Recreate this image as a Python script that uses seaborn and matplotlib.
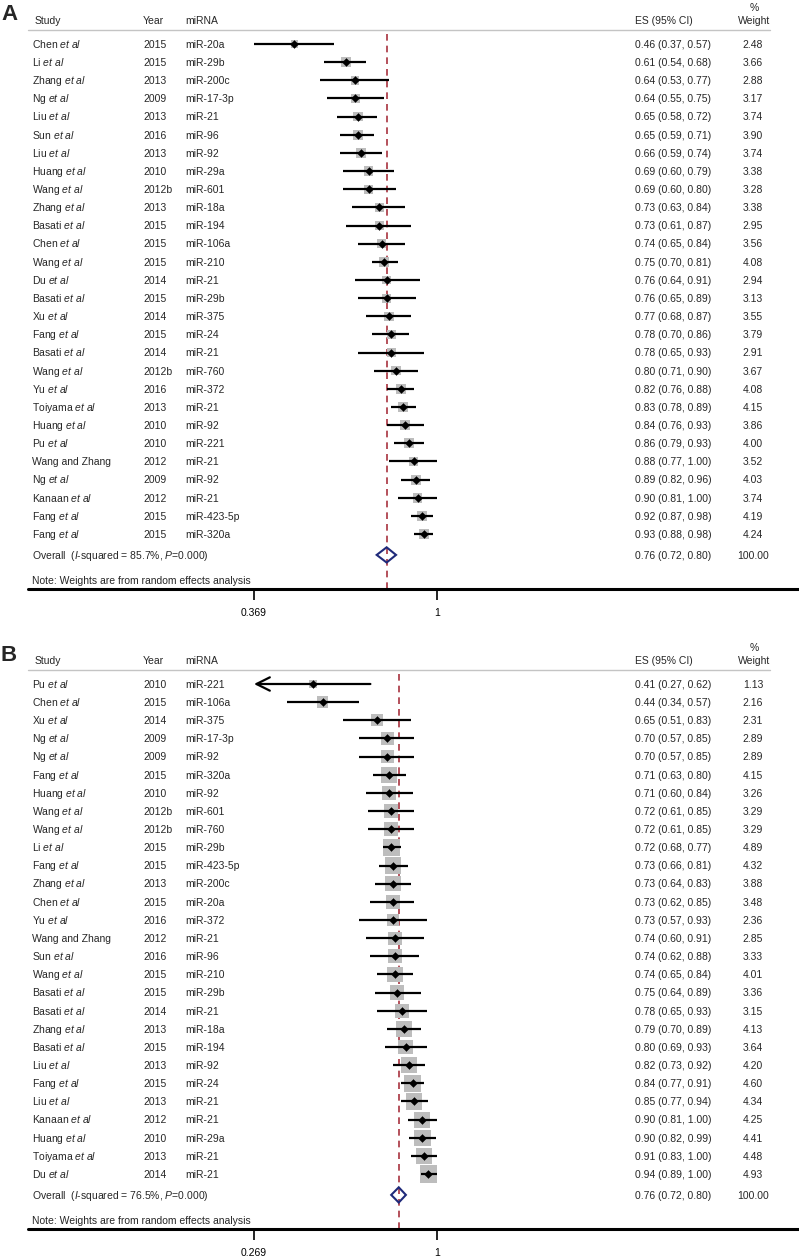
import matplotlib.pyplot as plt
import matplotlib.transforms as mtransforms
from matplotlib.lines import Line2D
from matplotlib.patches import Polygon
from matplotlib.ticker import NullLocator
import seaborn as sns
import pandas as pd

sns.set_theme(style='white')
plt.rcParams['font.family'] = ['Liberation Sans', 'DejaVu Sans']
plt.rcParams['mathtext.fontset'] = 'custom'
plt.rcParams['mathtext.rm'] = 'Liberation Sans'
plt.rcParams['mathtext.it'] = 'Liberation Sans:italic'

# PANEL A DATA
a_author = ['Chen', 'Li', 'Zhang', 'Ng', 'Liu', 'Sun', 'Liu', 'Huang', 'Wang', 'Zhang',
            'Basati', 'Chen', 'Wang', 'Du', 'Basati', 'Xu', 'Fang', 'Basati', 'Wang', 'Yu',
            'Toiyama', 'Huang', 'Pu', 'Wang and Zhang', 'Ng', 'Kanaan', 'Fang', 'Fang']
a_year = ['2015', '2015', '2013', '2009', '2013', '2016', '2013', '2010', '2012b', '2013',
          '2015', '2015', '2015', '2014', '2015', '2014', '2015', '2014', '2012b', '2016',
          '2013', '2010', '2010', '2012', '2009', '2012', '2015', '2015']
a_mirna = ['miR-20a', 'miR-29b', 'miR-200c', 'miR-17-3p', 'miR-21', 'miR-96', 'miR-92', 'miR-29a',
           'miR-601', 'miR-18a', 'miR-194', 'miR-106a', 'miR-210', 'miR-21', 'miR-29b', 'miR-375',
           'miR-24', 'miR-21', 'miR-760', 'miR-372', 'miR-21', 'miR-92', 'miR-221', 'miR-21',
           'miR-92', 'miR-21', 'miR-423-5p', 'miR-320a']
a_es = [0.46, 0.61, 0.64, 0.64, 0.65, 0.65, 0.66, 0.69, 0.69, 0.73, 0.73, 0.74, 0.75, 0.76,
        0.76, 0.77, 0.78, 0.78, 0.80, 0.82, 0.83, 0.84, 0.86, 0.88, 0.89, 0.90, 0.92, 0.93]
a_lo = [0.37, 0.54, 0.53, 0.55, 0.58, 0.59, 0.59, 0.60, 0.60, 0.63, 0.61, 0.65, 0.70, 0.64,
        0.65, 0.68, 0.70, 0.65, 0.71, 0.76, 0.78, 0.76, 0.79, 0.77, 0.82, 0.81, 0.87, 0.88]
a_hi = [0.57, 0.68, 0.77, 0.75, 0.72, 0.71, 0.74, 0.79, 0.80, 0.84, 0.87, 0.84, 0.81, 0.91,
        0.89, 0.87, 0.86, 0.93, 0.90, 0.88, 0.89, 0.93, 0.93, 1.00, 0.96, 1.00, 0.98, 0.98]
a_weight = [2.48, 3.66, 2.88, 3.17, 3.74, 3.90, 3.74, 3.38, 3.28, 3.38, 2.95, 3.56, 4.08, 2.94,
            3.13, 3.55, 3.79, 2.91, 3.67, 4.08, 4.15, 3.86, 4.00, 3.52, 4.03, 3.74, 4.19, 4.24]
a_overall = [0.76, 0.72, 0.80]
a_isq = '85.7%'
a_tick = 0.369

# PANEL B DATA
b_author = ['Pu', 'Chen', 'Xu', 'Ng', 'Ng', 'Fang', 'Huang', 'Wang', 'Wang', 'Li',
            'Fang', 'Zhang', 'Chen', 'Yu', 'Wang and Zhang', 'Sun', 'Wang', 'Basati', 'Basati', 'Zhang',
            'Basati', 'Liu', 'Fang', 'Liu', 'Kanaan', 'Huang', 'Toiyama', 'Du']
b_year = ['2010', '2015', '2014', '2009', '2009', '2015', '2010', '2012b', '2012b', '2015',
          '2015', '2013', '2015', '2016', '2012', '2016', '2015', '2015', '2014', '2013',
          '2015', '2013', '2015', '2013', '2012', '2010', '2013', '2014']
b_mirna = ['miR-221', 'miR-106a', 'miR-375', 'miR-17-3p', 'miR-92', 'miR-320a', 'miR-92', 'miR-601',
           'miR-760', 'miR-29b', 'miR-423-5p', 'miR-200c', 'miR-20a', 'miR-372', 'miR-21', 'miR-96',
           'miR-210', 'miR-29b', 'miR-21', 'miR-18a', 'miR-194', 'miR-92', 'miR-24', 'miR-21',
           'miR-21', 'miR-29a', 'miR-21', 'miR-21']
b_es = [0.41, 0.44, 0.65, 0.70, 0.70, 0.71, 0.71, 0.72, 0.72, 0.72, 0.73, 0.73, 0.73, 0.73,
        0.74, 0.74, 0.74, 0.75, 0.78, 0.79, 0.80, 0.82, 0.84, 0.85, 0.90, 0.90, 0.91, 0.94]
b_lo = [0.265, 0.34, 0.51, 0.57, 0.57, 0.63, 0.60, 0.61, 0.61, 0.68, 0.66, 0.64, 0.62, 0.57,
        0.60, 0.62, 0.65, 0.64, 0.65, 0.70, 0.69, 0.73, 0.77, 0.77, 0.81, 0.82, 0.83, 0.89]
b_hi = [0.62, 0.57, 0.83, 0.85, 0.85, 0.80, 0.84, 0.85, 0.85, 0.77, 0.81, 0.83, 0.85, 0.93,
        0.91, 0.88, 0.84, 0.89, 0.93, 0.89, 0.93, 0.92, 0.91, 0.94, 1.00, 0.99, 1.00, 1.00]
b_weight = [1.13, 2.16, 2.31, 2.89, 2.89, 4.15, 3.26, 3.29, 3.29, 4.89, 4.32, 3.88, 3.48, 2.36,
            2.85, 3.33, 4.01, 3.36, 3.15, 4.13, 3.64, 4.20, 4.60, 4.34, 4.25, 4.41, 4.48, 4.93]
b_overall = [0.76, 0.72, 0.80]
b_isq = '76.5%'
b_tick = 0.269

W, H = 799, 1257
FS = 7.5
ROW = 18.15
BL = 0.21  # baseline shift (rows) so text is centred on the row

fig = plt.figure(figsize=(W / 100, H / 100), dpi=100)


def fx(px):
    return px / W


def fy(py):
    return 1 - py / H


def draw_panel(off, letter, author, year, mirna, es, lo, hi, weight, overall, isq, tick, box_k):
    line_y = 30 + off
    axis_y = 589 + off
    first_y = 44 + off
    ax = fig.add_axes([fx(254), fy(axis_y), fx(620) - fx(254), (axis_y - line_y) / H])
    ax.set_xscale('log')
    ax.set_xlim(tick, 1 / tick)
    ax.set_ylim((axis_y - first_y) / ROW, (line_y - first_y) / ROW)
    ax.patch.set_alpha(0)
    for s in ax.spines.values():
        s.set_visible(False)

    df = pd.DataFrame({'row': range(len(es)), 'es': es, 'lo': lo, 'hi': hi, 'w': weight})

    # weight boxes (area proportional to weight)
    wmax = max(weight)
    smax = (box_k * 0.72) ** 2 * wmax
    sns.scatterplot(data=df, x='es', y='row', size='w', sizes=(0, smax), size_norm=(0, wmax),
                    marker='s', color='#bdbdbd', edgecolor='none', legend=False, ax=ax, zorder=2)

    # confidence intervals
    for r in df.itertuples():
        if r.lo < tick:
            ax.annotate('', xy=(tick, r.row), xytext=(r.hi, r.row),
                        arrowprops=dict(arrowstyle='->,head_length=0.8,head_width=0.4',
                                        lw=1.6, color='black', shrinkA=0, shrinkB=0), zorder=3)
        else:
            ax.hlines(r.row, r.lo, r.hi, color='black', lw=1.6, zorder=3)

    sns.scatterplot(data=df, x='es', y='row', marker='D', s=16, color='black',
                    edgecolor='black', legend=False, ax=ax, zorder=4)

    # overall estimate
    ov_y = 28.15
    o_es, o_lo, o_hi = overall
    ax.axvline(o_es, color='#a8323e', ls=(0, (4, 3)), lw=1.2, zorder=1)
    ax.add_patch(Polygon([(o_lo, ov_y), (o_es, ov_y - 0.42), (o_hi, ov_y), (o_es, ov_y + 0.42)],
                         closed=True, fill=False, edgecolor='#1f2a7a', lw=1.5, zorder=5))

    # axis
    ax.set_xticks([tick, 1])
    ax.set_xticklabels([f'{tick:g}', '1'])
    ax.xaxis.set_minor_locator(NullLocator())
    ax.set_yticks([])
    ax.set_xlabel('')
    ax.set_ylabel('')
    ax.tick_params(axis='x', bottom=True, direction='out', length=8, width=1.2,
                   pad=6, labelsize=FS, colors='black')
    fig.add_artist(Line2D([fx(28), 1], [fy(axis_y), fy(axis_y)], color='black', lw=2.2))
    fig.add_artist(Line2D([fx(28), fx(770)], [fy(line_y), fy(line_y)], color='#c4c4c4', lw=1))

    # text columns
    tr = mtransforms.blended_transform_factory(fig.transFigure, ax.transData)

    def put(x, y, s, ha='left'):
        ax.text(fx(x), y + BL, s, transform=tr, fontsize=FS, va='baseline', ha=ha)

    hdr = (line_y - 10 - first_y) / ROW
    fig.text(fx(1), fy(15 + off), letter, fontsize=16, weight='bold', va='center', ha='left')
    put(35, hdr, 'Study')
    put(143, hdr, 'Year')
    put(185, hdr, 'miRNA')
    put(635, hdr, 'ES (95% CI)')
    put(754, hdr, 'Weight', ha='center')
    put(754, hdr - 0.72, '%', ha='center')

    for i in range(len(es)):
        name = author[i] if ' and ' in author[i] else author[i] + r' $\mathit{et\ al}$'
        put(32, i, name)
        put(143, i, year[i])
        put(185, i, mirna[i])
        put(635, i, f'{es[i]:.2f} ({lo[i]:.2f}, {hi[i]:.2f})')
        put(753, i, f'{weight[i]:.2f}', ha='center')

    put(32, ov_y, r'Overall  ($\mathit{I}$-squared = ' + isq + r', $\mathit{P}$=0.000)')
    put(635, ov_y, f'{o_es:.2f} ({o_lo:.2f}, {o_hi:.2f})')
    put(753, ov_y, '100.00', ha='center')
    put(32, 29.53, 'Note: Weights are from random effects analysis')


draw_panel(0, 'A', a_author, a_year, a_mirna, a_es, a_lo, a_hi, a_weight, a_overall, a_isq, a_tick, 5.0)
draw_panel(640, 'B', b_author, b_year, b_mirna, b_es, b_lo, b_hi, b_weight, b_overall, b_isq, b_tick, 7.8)

fig.savefig('out.png', dpi=100)
